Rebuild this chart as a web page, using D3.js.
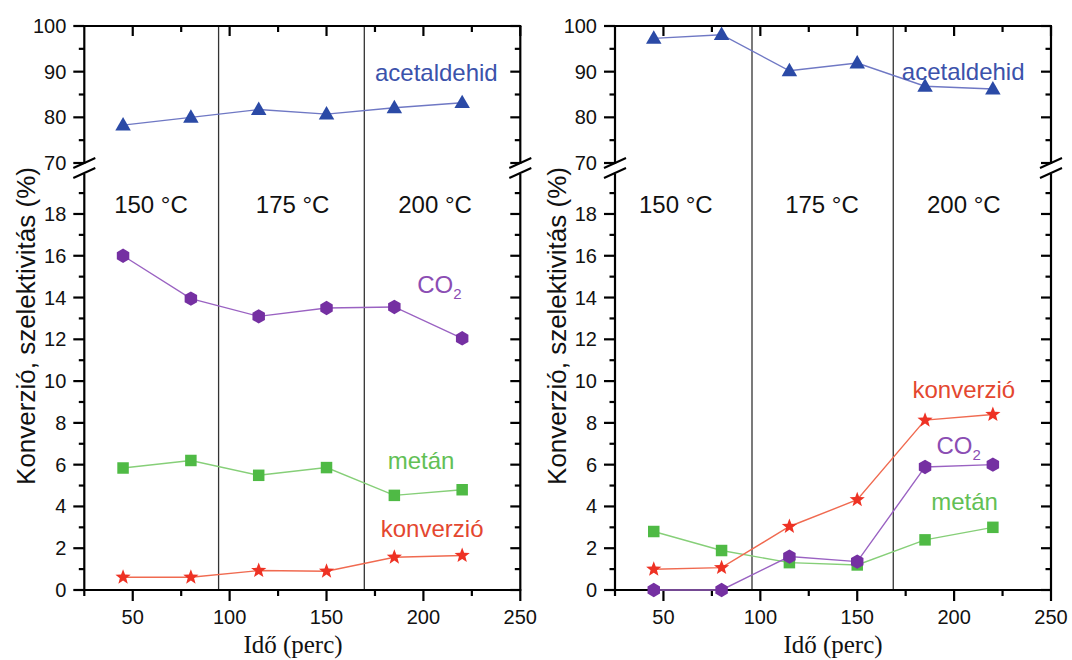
<!DOCTYPE html>
<html><head><meta charset="utf-8">
<script src="https://cdn.jsdelivr.net/npm/d3@7"></script>
<style>
html,body{margin:0;padding:0;background:#fff;}
svg text{font-family:"Liberation Sans",Arial,sans-serif;}
</style></head>
<body>
<svg id="chart" width="1072" height="660"></svg>
<script>
// ---------- data ----------
const time = [45, 80, 115, 150, 185, 220];
const leftAcetaldehid = [78.3, 80.0, 81.7, 80.7, 82.1, 83.2];
const leftCO2 = [16.0, 13.95, 13.1, 13.5, 13.55, 12.05];
const leftMetan = [5.84, 6.2, 5.49, 5.86, 4.53, 4.8];
const leftKonverzio = [0.61, 0.61, 0.93, 0.9, 1.57, 1.65];
const rightAcetaldehid = [97.3, 98.1, 90.2, 91.9, 86.8, 86.2];
const rightCO2 = [0.0, 0.0, 1.6, 1.36, 5.89, 6.0];
const rightMetan = [2.8, 1.89, 1.31, 1.2, 2.4, 3.0];
const rightKonverzio = [0.99, 1.07, 3.04, 4.32, 8.13, 8.4];
const xTickLabels = [50, 100, 150, 200, 250];
const upperTickLabels = [70, 80, 90, 100];
const lowerTickLabels = [0, 2, 4, 6, 8, 10, 12, 14, 16, 18];
const temperatureLabels = ["150 °C", "175 °C", "200 °C"];
const leftDividers = [94.3, 169.5];
const rightDividers = [95.7, 168.6];

const svg = d3.select("#chart");

const colors = {
  acet: {mark: "#2b4aa6", line: "#6f78c4", text: "#3b52ab"},
  co2: {mark: "#7530a2", line: "#9a62c2", text: "#8b4db3"},
  met: {mark: "#4fba45", line: "#86cf78", text: "#62c055"},
  konv: {mark: "#ee3224", line: "#f06a50", text: "#e4472f"}
};

function starPath(r) {
  const pts = [];
  for (let i = 0; i < 10; i++) {
    const rr = i % 2 === 0 ? r : r * 0.42;
    const a = -Math.PI / 2 + i * Math.PI / 5;
    pts.push([rr * Math.cos(a), rr * Math.sin(a)]);
  }
  return "M" + pts.map(p => p.join(",")).join("L") + "Z";
}
function hexPath(r) {
  const pts = [];
  for (let i = 0; i < 6; i++) {
    const a = -Math.PI / 2 + i * Math.PI / 3;
    pts.push([r * Math.cos(a), r * Math.sin(a)]);
  }
  return "M" + pts.map(p => p.join(",")).join("L") + "Z";
}
function triPath(s) {
  const h = s * 0.87;
  return `M0,${-h * 0.6}L${s / 2},${h * 0.4}L${-s / 2},${h * 0.4}Z`;
}
function sqPath(s) { return `M${-s/2},${-s/2}h${s}v${s}h${-s}Z`; }

const markers = {
  acet: triPath(15.5),
  co2: hexPath(7.2),
  met: sqPath(11.5),
  konv: starPath(8)
};

function drawPanel(cfg) {
  const g = svg.append("g");
  const x = d3.scaleLinear().domain([25, 250]).range([cfg.x0, cfg.x0 + 436]);
  const yU = d3.scaleLinear().domain([70, 100]).range([163, 26]);
  const yL = d3.scaleLinear().domain([0, 20]).range([590, 590 - 20 * 20.89]);
  const L = cfg.x0, R = cfg.x0 + 436, T = 26, B = 590;
  const yUbreak = 164, yLbreak = 174;

  // dividers
  cfg.dividers.forEach(d => {
    g.append("line").attr("x1", x(d)).attr("x2", x(d)).attr("y1", T).attr("y2", B)
      .attr("stroke", "#333").attr("stroke-width", 1.3);
  });

  // axes lines
  const ax = g.append("g").attr("stroke", "#000").attr("stroke-width", 2.2).attr("fill", "none");
  ax.append("line").attr("x1", L - 1).attr("x2", R + 1).attr("y1", T).attr("y2", T);
  ax.append("line").attr("x1", L - 1).attr("x2", R + 1).attr("y1", B).attr("y2", B);
  [L, R].forEach(xx => {
    ax.append("line").attr("x1", xx).attr("x2", xx).attr("y1", T).attr("y2", yUbreak);
    ax.append("line").attr("x1", xx).attr("x2", xx).attr("y1", yLbreak).attr("y2", B);
    [163, 173].forEach(yy => {
      ax.append("line").attr("x1", xx - 11).attr("y1", yy + 5).attr("x2", xx + 11).attr("y2", yy - 5)
        .attr("stroke-width", 2);
    });
  });

  // x ticks
  const xMaj = d3.range(50, 251, 50), xMin = d3.range(25, 251, 50);
  xMaj.forEach(v => {
    ax.append("line").attr("x1", x(v)).attr("x2", x(v)).attr("y1", B).attr("y2", B + 11);
    ax.append("line").attr("x1", x(v)).attr("x2", x(v)).attr("y1", T).attr("y2", T + 10);
  });
  xMin.forEach(v => {
    ax.append("line").attr("x1", x(v)).attr("x2", x(v)).attr("y1", B).attr("y2", B + 6);
    if (v > 25 && v < 250) ax.append("line").attr("x1", x(v)).attr("x2", x(v)).attr("y1", T).attr("y2", T + 6);
  });
  xTickLabels.forEach(v => {
    g.append("text").attr("x", x(v)).attr("y", 624).attr("text-anchor", "middle")
      .attr("font-size", 20).attr("fill", "#111").text(v);
  });

  // y ticks
  const yTick = (yy, major) => {
    const len = major ? 11 : 5.5;
    ax.append("line").attr("x1", L - len).attr("x2", L).attr("y1", yy).attr("y2", yy);
    ax.append("line").attr("x1", R - (major ? 10 : 5.5)).attr("x2", R).attr("y1", yy).attr("y2", yy);
  };
  upperTickLabels.forEach(v => {
    yTick(yU(v), true);
    g.append("text").attr("x", L - 18).attr("y", yU(v) + 7).attr("text-anchor", "end")
      .attr("font-size", 20).attr("fill", "#111").text(v);
  });
  [75, 85, 95].forEach(v => yTick(yU(v), false));
  lowerTickLabels.forEach(v => {
    yTick(yL(v), true);
    g.append("text").attr("x", L - 18).attr("y", yL(v) + 7).attr("text-anchor", "end")
      .attr("font-size", 20).attr("fill", "#111").text(v);
  });
  d3.range(1, 20, 2).forEach(v => yTick(yL(v), false));

  // titles
  g.append("text").attr("transform", `translate(${cfg.yTitleX},326) rotate(-90)`)
    .attr("text-anchor", "middle").attr("font-size", 26).attr("fill", "#111")
    .text("Konverzió, szelektivitás (%)");
  g.append("text").attr("x", cfg.xTitleX).attr("y", 653).attr("text-anchor", "middle")
    .attr("font-size", 25).attr("fill", "#111")
    .style("font-family", "'Liberation Serif','Times New Roman',serif")
    .text("Idő (perc)");

  // temperature labels
  temperatureLabels.forEach((t, i) => {
    g.append("text").attr("x", x(cfg.tempX[i])).attr("y", 212.5).attr("text-anchor", "middle")
      .attr("font-size", 24).attr("fill", "#111").text(t);
  });

  // series
  const series = cfg.series;
  series.forEach(s => {
    const sc = s.upper ? yU : yL;
    const pts = time.map((t, i) => [x(t), sc(s.values[i])]);
    g.append("path").attr("d", d3.line()(pts)).attr("fill", "none")
      .attr("stroke", colors[s.key].line).attr("stroke-width", 1.4);
  });
  series.forEach(s => {
    const sc = s.upper ? yU : yL;
    time.forEach((t, i) => {
      g.append("path").attr("d", markers[s.key])
        .attr("transform", `translate(${x(t)},${sc(s.values[i])})`)
        .attr("fill", colors[s.key].mark);
    });
  });

  // series labels
  cfg.labels.forEach(lb => {
    const sc = lb.upper ? yU : yL;
    const txt = g.append("text").attr("x", x(lb.x)).attr("y", sc(lb.y))
      .attr("font-size", 24).attr("fill", colors[lb.key].text);
    if (lb.key === "co2") {
      txt.text("CO");
      txt.append("tspan").attr("font-size", 15).attr("dy", 6).text("2");
    } else txt.text(lb.text);
  });
}

drawPanel({
  x0: 84.3, dividers: leftDividers, yTitleX: 35, xTitleX: 293,
  tempX: [59.4, 132.5, 206],
  series: [
    {key: "acet", values: leftAcetaldehid, upper: true},
    {key: "co2", values: leftCO2},
    {key: "met", values: leftMetan},
    {key: "konv", values: leftKonverzio}
  ],
  labels: [
    {key: "acet", text: "acetaldehid", x: 175, y: 87.9, upper: true},
    {key: "co2", x: 196.8, y: 14.22},
    {key: "met", text: "metán", x: 181.6, y: 5.79},
    {key: "konv", text: "konverzió", x: 178, y: 2.56}
  ]
});

drawPanel({
  x0: 615, dividers: rightDividers, yTitleX: 566, xTitleX: 833,
  tempX: [56.4, 131.8, 205],
  series: [
    {key: "acet", values: rightAcetaldehid, upper: true},
    {key: "met", values: rightMetan},
    {key: "konv", values: rightKonverzio},
    {key: "co2", values: rightCO2}
  ],
  labels: [
    {key: "acet", text: "acetaldehid", x: 173, y: 88.1, upper: true},
    {key: "konv", text: "konverzió", x: 178.5, y: 9.2},
    {key: "co2", x: 190.9, y: 6.53},
    {key: "met", text: "metán", x: 188.2, y: 3.84}
  ]
});
</script>
</body></html>
